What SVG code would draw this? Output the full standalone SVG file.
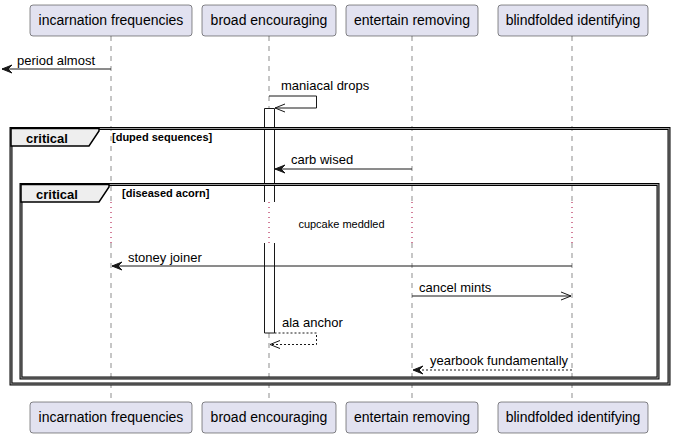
<svg xmlns="http://www.w3.org/2000/svg" width="673" height="438" viewBox="0 0 673 438">
<style>
text{font-family:"Liberation Sans",Arial,sans-serif;fill:#000}
.pbox{fill:#E2E2F0;stroke:#181818;stroke-width:0.5}
.pt{font-size:14px;text-anchor:middle}
.life{stroke:#181818;stroke-width:0.5;stroke-dasharray:5,5;fill:none}
.dly{stroke:#A80036;stroke-width:1;stroke-dasharray:1,4;fill:none}
.msg{stroke:#181818;stroke-width:1;fill:none}
.dash{stroke-dasharray:2,2}
.mt{font-size:13px}
.head{fill:#181818;stroke:#181818;stroke-width:1}
.frame{fill:none;stroke:#000;stroke-width:3}
.frame2{fill:none;stroke:#999;stroke-width:1}
.tab{fill:#EEEEEE;stroke:#000;stroke-width:1.5}
.ft{font-size:13px;font-weight:bold}
.gt{font-size:11px;font-weight:bold}
</style>
<g id="lifelines">
<path class="life" d="M111,36V202M111,243V402M269,36V202M269,243V402M412,36V202M412,243V402M572,36V202M572,243V402"/>
<path class="dly" d="M111,202V243M269,202V243M412,202V243M572,202V243"/>
</g>
<g id="activation">
<rect x="264.5" y="108.5" width="10" height="93.5" fill="#fff"/>
<rect x="264.5" y="243" width="10" height="90" fill="#fff"/>
<path class="msg" d="M264.5,202V108.5H274.5V202M264.5,243V333H274.5V243"/>
</g>
<g id="participant-incarnation">
<rect class="pbox" x="30" y="5" width="162" height="31" rx="3"/>
<text class="pt" x="111" y="25">incarnation frequencies</text>
<rect class="pbox" x="30" y="402" width="162" height="31" rx="3"/>
<text class="pt" x="111" y="422">incarnation frequencies</text>
</g>
<g id="participant-broad">
<rect class="pbox" x="202" y="5" width="134" height="31" rx="3"/>
<text class="pt" x="269" y="25">broad encouraging</text>
<rect class="pbox" x="202" y="402" width="134" height="31" rx="3"/>
<text class="pt" x="269" y="422">broad encouraging</text>
</g>
<g id="participant-entertain">
<rect class="pbox" x="346" y="5" width="132" height="31" rx="3"/>
<text class="pt" x="412" y="25">entertain removing</text>
<rect class="pbox" x="346" y="402" width="132" height="31" rx="3"/>
<text class="pt" x="412" y="422">entertain removing</text>
</g>
<g id="participant-blindfolded">
<rect class="pbox" x="498" y="5" width="150" height="31" rx="3"/>
<text class="pt" x="573" y="25">blindfolded identifying</text>
<rect class="pbox" x="498" y="402" width="150" height="31" rx="3"/>
<text class="pt" x="573" y="422">blindfolded identifying</text>
</g>
<g id="frame-duped">
<rect class="frame" x="11" y="128.5" width="658" height="255.5"/>
<rect class="frame2" x="11" y="128.5" width="658" height="255.5"/>
<path class="tab" d="M11,128.5H99V131L89,146H11Z"/>
<text class="ft" x="26" y="143">critical</text>
<text class="gt" x="112" y="141">[duped sequences]</text>
</g>
<g id="frame-diseased">
<rect class="frame" x="21" y="184.5" width="637" height="193.5"/>
<rect class="frame2" x="21" y="184.5" width="637" height="193.5"/>
<path class="tab" d="M21,184.5H109V187L99,202H21Z"/>
<text class="ft" x="36" y="199">critical</text>
<text class="gt" x="122" y="197">[diseased acorn]</text>
</g>
<g id="connectors">
<path class="msg" d="M111,69H2"/>
<polygon class="head" points="12,65 2,69 12,73 8,69"/>
<text class="mt" x="17" y="65">period almost</text>

<path class="msg" d="M269,96H316.5V108H275"/>
<path class="msg" d="M285,104L275,108L285,112"/>
<text class="mt" x="281" y="90">maniacal drops</text>

<path class="msg" d="M412,169H275"/>
<polygon class="head" points="285,165 275,169 285,173 281,169"/>
<text class="mt" x="291" y="164">carb wised</text>

<text x="341.5" y="228" font-size="11" text-anchor="middle">cupcake meddled</text>

<path class="msg" d="M572,266H112"/>
<polygon class="head" points="122,262 112,266 122,270 118,266"/>
<text class="mt" x="128" y="262">stoney joiner</text>

<path class="msg" d="M412,296H571"/>
<path class="msg" d="M561,292L571,296L561,300"/>
<text class="mt" x="419" y="292">cancel mints</text>

<path class="msg dash" d="M274.5,333H316.5V344.5H270"/>
<path class="msg" d="M280,340.5L270,344.5L280,348.5"/>
<text class="mt" x="282" y="327">ala anchor</text>

<path class="msg dash" d="M572,370H413"/>
<polygon class="head" points="423,366 413,370 423,374 419,370"/>
<text class="mt" x="430" y="365">yearbook fundamentally</text>
</g>
</svg>
